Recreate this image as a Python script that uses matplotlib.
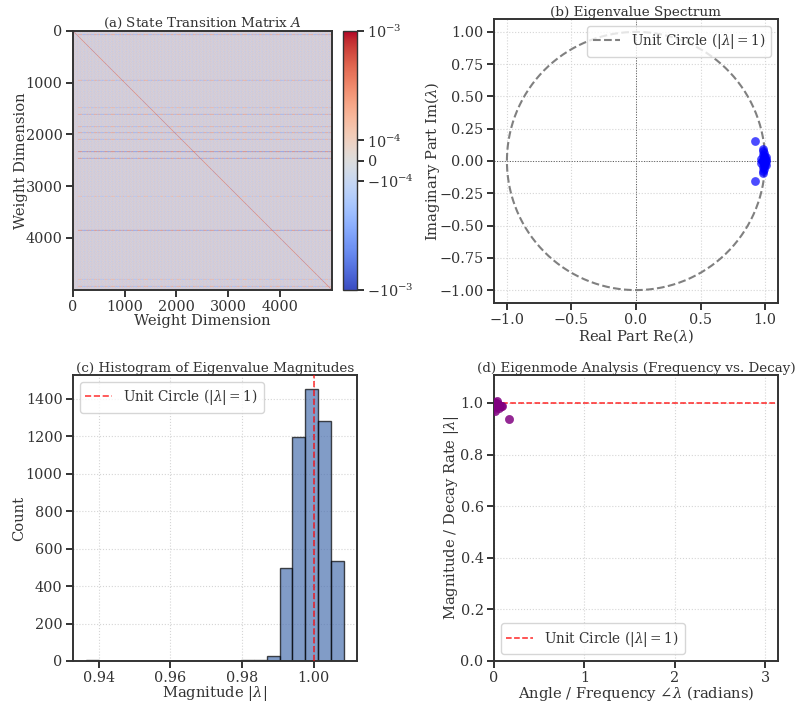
#!/usr/bin/env python3
"""Four panel eigenvalue figure: transition matrix, spectrum, histogram, eigenmodes."""
import numpy as np
import matplotlib
matplotlib.use("Agg")
import matplotlib.pyplot as plt
from matplotlib.colors import SymLogNorm

plt.rcParams["font.family"] = "serif"
plt.rcParams["font.serif"] = ["DejaVu Serif"]
plt.rcParams["mathtext.fontset"] = "dejavuserif"
plt.rcParams["text.color"] = "#333333"
plt.rcParams["axes.labelcolor"] = "#333333"
plt.rcParams["xtick.labelcolor"] = "#333333"
plt.rcParams["ytick.labelcolor"] = "#333333"

# ----- data -----
matrix_size = 5005
matrix_cells = 518
# small texture tile for the background noise of A (hand estimate)
noise_tile = [
    [1.2e-4, -1.8e-4, 0.6e-4, -1.1e-4, 1.4e-4, -0.5e-4, -1.6e-4],
    [-1.4e-4, 0.7e-4, -1.9e-4, 1.3e-4, -0.6e-4, 1.1e-4, -1.2e-4],
    [0.9e-4, -1.6e-4, 1.2e-4, -0.8e-4, -1.7e-4, 1.5e-4, 0.4e-4],
    [-1.8e-4, 1.4e-4, -0.5e-4, 0.8e-4, 1.0e-4, -1.5e-4, -0.7e-4],
    [0.5e-4, -0.9e-4, 1.5e-4, -1.7e-4, 0.6e-4, -1.3e-4, 1.2e-4],
]
band_rows = [70, 950, 1480, 1610, 1850, 1970, 2090, 2330, 2460, 3190, 3850, 4800, 4930]
band_amps = [3.0e-4, 2.5e-4, 2.0e-4, 3.0e-4, 2.5e-4, 3.0e-4, 2.5e-4, 5.5e-4, 4.0e-4, 1.8e-4, 4.5e-4, 2.0e-4, 2.5e-4]
band_pattern = [1, -1, -1, 1, 1, 1, -1, -1, -1, 1, -1, 1, -1, -1, 1, 1, -1, 1, -1, -1, -1, 1]
diag_value = 6e-4

cbar_ticks = [-1e-3, -1e-4, 0, 1e-4, 1e-3]

eig_real = [0.925, 0.925, 0.985, 0.985, 0.985, 0.985, 0.99, 0.99, 0.995, 0.995, 0.98, 0.98,
            1.0, 1.0, 1.005, 1.005, 0.975, 0.985, 0.995, 1.0, 0.99, 0.99, 1.005, 1.005, 0.97, 0.97]
eig_imag = [0.155, -0.155, 0.09, -0.09, 0.075, -0.075, 0.06, -0.06, 0.04, -0.04, 0.05, -0.05,
            0.02, -0.02, 0.03, -0.03, 0.0, 0.0, 0.0, 0.0, 0.02, -0.02, 0.0, 0.01, 0.015, -0.015]

hist_edges = [0.93644, 0.94004, 0.94365, 0.94725, 0.95086, 0.95446, 0.95806, 0.96167, 0.96527, 0.96888,
              0.97248, 0.97608, 0.97969, 0.98329, 0.98690, 0.99050, 0.99410, 0.99771, 1.00131, 1.00492, 1.00852]
hist_counts = [3, 0, 0, 0, 0, 0, 0, 0, 0, 0, 0, 0, 5, 7, 25, 495, 1195, 1455, 1280, 535]

circle_angle = np.linspace(0, 2 * np.pi, 400)
LEG = r"Unit Circle ($|\lambda| = 1$)"
DARK = "#333333"
TICK_FS = 10.4


def place(px_left, px_top, px_right, px_bottom):
    W, H = 795.0, 706.0
    return fig.add_axes([px_left / W, 1 - px_bottom / H, (px_right - px_left) / W, (px_bottom - px_top) / H])


def style(ax, grid=True):
    for s in ax.spines.values():
        s.set_linewidth(1.4)
        s.set_color(DARK)
    ax.tick_params(length=5, width=1.4, color=DARK, labelsize=TICK_FS, pad=2.5)
    if grid:
        ax.grid(True, ls=":", lw=0.8, color="#d5d5d5")
        ax.set_axisbelow(True)


def labels(ax, title, xl, yl, xpad=0, ypad=0):
    ax.set_title(title, fontsize=9.7, pad=1)
    ax.set_xlabel(xl, fontsize=10.6, labelpad=xpad)
    ax.set_ylabel(yl, fontsize=10.6, labelpad=ypad)


fig = plt.figure(figsize=(7.95, 7.06), dpi=100)

# ===== (a) matrix =====
ax = place(73, 31, 332, 290)
tile = np.array(noise_tile)
reps = (matrix_cells // tile.shape[0] + 1, matrix_cells // tile.shape[1] + 1)
A = np.tile(tile, reps)[:matrix_cells, :matrix_cells]
cell = matrix_size / matrix_cells
pat = np.resize(np.repeat(band_pattern, 3), matrix_cells)
start = int(100 / cell)
for r, amp in zip(band_rows, band_amps):
    A[int(r / cell), start:] = (amp * pat)[start:]
idx = np.arange(matrix_cells)
A[idx, idx] = diag_value
norm = SymLogNorm(linthresh=1e-4, linscale=0.165, vmin=-1e-3, vmax=1e-3)
im = ax.imshow(A, cmap="coolwarm", norm=norm, aspect="auto", interpolation="antialiased",
               interpolation_stage="rgba", extent=(0, matrix_size, matrix_size, 0))
ax.set_xticks([0, 1000, 2000, 3000, 4000])
ax.set_yticks([0, 1000, 2000, 3000, 4000])
style(ax, grid=False)
labels(ax, r"(a) State Transition Matrix $A$", "Weight Dimension", "Weight Dimension", ypad=-2)

cax = place(343, 31, 357, 290)
cb = fig.colorbar(im, cax=cax, ticks=cbar_ticks)
cb.ax.minorticks_off()
cb.outline.set_linewidth(1.0)
cb.outline.set_edgecolor(DARK)
cb.ax.tick_params(length=5, width=1.4, color=DARK, labelsize=TICK_FS, pad=2.5)

# ===== (b) spectrum =====
ax = place(494, 19, 778, 303)
ax.axhline(0, color="#555555", lw=0.7, ls=":")
ax.axvline(0, color="#555555", lw=0.7, ls=":")
ax.plot(np.cos(circle_angle), np.sin(circle_angle), color="#808080", ls="--", lw=1.5, label=LEG)
ax.scatter(eig_real, eig_imag, s=40, color="blue", alpha=0.7, linewidths=0, zorder=3)
ax.set_xlim(-1.1, 1.1)
ax.set_ylim(-1.1, 1.1)
ax.set_xticks([-1.0, -0.5, 0.0, 0.5, 1.0])
ax.set_yticks(np.arange(-1.0, 1.01, 0.25))
style(ax)
labels(ax, "(b) Eigenvalue Spectrum", r"Real Part Re($\lambda$)", r"Imaginary Part Im($\lambda$)", xpad=-0.3, ypad=-2)
ax.legend(loc="upper right", fontsize=9.8, framealpha=0.8)

# ===== (c) histogram =====
ax = place(73, 375, 357, 661)
ax.bar(hist_edges[:-1], hist_counts, width=np.diff(hist_edges), align="edge", color="#4c72b0",
       edgecolor="black", linewidth=1.0, alpha=0.7, zorder=2)
ax.axvline(1.0, color="red", ls="--", lw=1.2, alpha=0.75, label=LEG, zorder=3)
ax.set_xlim(0.93283, 1.01212)
ax.set_ylim(0, 1528)
ax.set_xticks([0.94, 0.96, 0.98, 1.00])
ax.set_xticklabels(["0.94", "0.96", "0.98", "1.00"])
ax.set_yticks(np.arange(0, 1401, 200))
style(ax)
labels(ax, "(c) Histogram of Eigenvalue Magnitudes", r"Magnitude $|\lambda|$", "Count", xpad=-1)
ax.legend(loc="upper left", fontsize=9.8, framealpha=0.8)

# ===== (d) eigenmodes =====
ax = place(494, 375, 778, 661)
mags = np.hypot(eig_real, eig_imag)
angs = np.abs(np.arctan2(eig_imag, eig_real))
ax.scatter(angs, mags, s=40, color="purple", alpha=0.6, linewidths=0, zorder=3)
ax.axhline(1.0, color="red", ls="--", lw=1.1, alpha=0.85, label=LEG, zorder=2)
ax.set_xlim(0, np.pi)
ax.set_ylim(0, 1.108)
ax.set_xticks([0, 1, 2, 3])
ax.set_yticks(np.arange(0, 1.01, 0.2))
style(ax)
labels(ax, "(d) Eigenmode Analysis (Frequency vs. Decay)", r"Angle / Frequency $\angle\lambda$ (radians)",
       r"Magnitude / Decay Rate $|\lambda|$", xpad=-1, ypad=-0.5)
ax.legend(loc="lower left", fontsize=9.8, framealpha=0.8)

fig.savefig("out.png", dpi=100)
